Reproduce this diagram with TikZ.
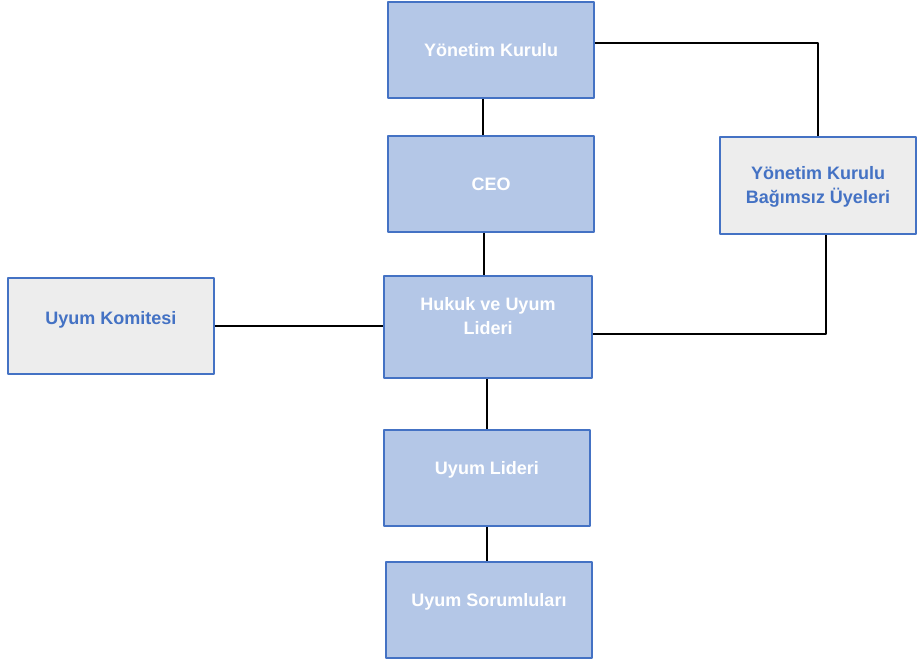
\documentclass[tikz,border=0pt]{standalone}
\usepackage{fontspec}
\setmainfont{Liberation Sans}
\definecolor{boxblue}{HTML}{B4C7E7}
\definecolor{edgeblue}{HTML}{4472C4}
\definecolor{boxgray}{HTML}{EDEDED}
\begin{document}
\begin{tikzpicture}[x=1pt, y=-1pt,
    unit/.style={draw=edgeblue, line width=1.5pt, fill=boxblue, text=white, font=\bfseries\fontsize{18}{24}\selectfont, minimum width=206pt, minimum height=96pt, align=center, inner sep=0pt},
    side/.style={unit, fill=boxgray, text=edgeblue},
    link/.style={draw=black, line width=1.3pt},
    line join = round]
      \useasboundingbox (0,0) rectangle (917,664);

      \node[unit] (yk) at (491,50) {Yönetim Kurulu};
      \node[unit] (ceo) at (491,184) {CEO};
      \node[unit, minimum width=208pt, minimum height=102pt, text depth=22pt] (huk) at (488,327) {Hukuk ve Uyum\\Lideri};
      \node[side, text depth=16pt] (kom) at (111,326) {Uyum Komitesi};
      \node[side, minimum width=196pt, minimum height=97pt, text depth=2pt] (bag) at (818,185.5) {Yönetim Kurulu\\Bağımsız Üyeleri};
      \node[unit, text depth=20pt] (ul) at (487,478) {Uyum Lideri};
      \node[unit, text depth=20pt] (us) at (489,610) {Uyum Sorumluları};

      \draw[link] ([yshift=7pt]yk.east) -| (bag.north);
      \draw[link] ([xshift=-8pt]yk.south) -- ([xshift=-8pt]yk.south |- ceo.north);
      \draw[link] ([xshift=-7pt]ceo.south) -- ([xshift=-7pt]ceo.south |- huk.north);
      \draw[link] (kom.east) -- (kom.east -| huk.west);
      \draw[link] ([yshift=-7pt]huk.east) -| ([xshift=8pt]bag.south);
      \draw[link] (huk.south -| ul.north) -- (ul.north);
      \draw[link] (ul.south) -- (ul.south |- us.north);
    \end{tikzpicture}
\end{document}
